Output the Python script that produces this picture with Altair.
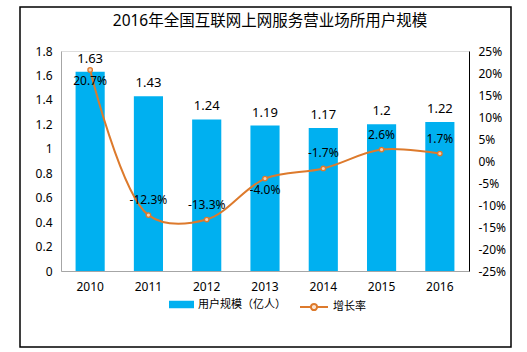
import altair as alt
import pandas as pd

years = ["2010", "2011", "2012", "2013", "2014", "2015", "2016"]
users = [1.63, 1.43, 1.24, 1.19, 1.17, 1.2, 1.22]
growth = [20.7, -12.3, -13.3, -4.0, -1.7, 2.6, 1.7]
below_years = ["2010", "2013"]
left_ticks = [0, 0.2, 0.4, 0.6, 0.8, 1.0, 1.2, 1.4, 1.6, 1.8]
right_ticks = [-25, -20, -15, -10, -5, 0, 5, 10, 15, 20, 25]
bar_name = "用户规模（亿人）"
line_name = "增长率"
title_text = "2016年全国互联网上网服务营业场所用户规模"

FONT = "Noto Sans, Noto Sans CJK SC, sans-serif"
BLUE = "#00B0F0"
ORANGE = "#DD7A2C"

df = pd.DataFrame({
    "year": years,
    "users": users,
    "growth": growth,
    "bar": [bar_name] * len(years),
    "line": [line_name] * len(years),
})
df["below"] = df["year"].isin(below_years)

xenc = alt.X("year:N", sort=years, title=None,
             scale=alt.Scale(paddingInner=0.5, paddingOuter=0.25),
             axis=alt.Axis(labelAngle=0, ticks=False, domainColor="#A6A6A6",
                           labelFontSize=12, labelPadding=10, labelColor="#000000",
                           labelFont=FONT))

yu = alt.Y("users:Q", title=None,
           scale=alt.Scale(domain=[0, 1.8], nice=False),
           axis=alt.Axis(values=left_ticks, tickCount=10, format="~g", ticks=False, grid=False,
                         labelOverlap=False, labelFlush=False,
                         domainColor="#A6A6A6", labelFontSize=12, labelPadding=9,
                         labelColor="#000000", labelFont=FONT))

yg = alt.Y("growth:Q", title=None,
           scale=alt.Scale(domain=[-25, 25], nice=False),
           axis=alt.Axis(orient="right", values=right_ticks, tickCount=11,
                         labelExpr="datum.value + '%'",
                         labelOverlap=False, labelFlush=False,
                         ticks=False, grid=False, domainColor="#000000", labelFontSize=12,
                         labelPadding=9, labelColor="#000000", labelFont=FONT))

base = alt.Chart(df)

bars = base.mark_bar().encode(
    x=xenc,
    y=yu,
    color=alt.Color("bar:N", scale=alt.Scale(domain=[bar_name], range=[BLUE]),
                    legend=alt.Legend(title=None, orient="none", legendX=108, legendY=241,
                                      symbolType="M-1,-0.3H1V0.3H-1Z", symbolSize=625,
                                      symbolStrokeWidth=0, labelFontSize=11, labelFont=FONT,
                                      labelColor="#000000", padding=0)),
)

bar_labels = base.mark_text(baseline="bottom", dy=-6, fontSize=13, font=FONT, color="#000000").encode(
    x=xenc,
    y=yu,
    text=alt.Text("users:Q", format="~g"),
)

left = alt.layer(bars, bar_labels)

line = base.mark_line(interpolate="catmull-rom", strokeWidth=2).encode(
    x=xenc,
    y=yg,
    stroke=alt.Stroke("line:N", scale=alt.Scale(domain=[line_name], range=[ORANGE]),
                      legend=alt.Legend(title=None, orient="none", legendX=238, legendY=241,
                                        symbolType="M-1,0H-0.22M0.22,0H1M-0.22,0A0.22,0.22,0,1,1,0.22,0A0.22,0.22,0,1,1,-0.22,0",
                                        symbolSize=784, symbolStrokeWidth=2,
                                        symbolFillColor="#FBE3D0",
                                        labelFontSize=11, labelFont=FONT,
                                        labelColor="#000000", padding=0)),
)

pts = base.mark_point(filled=False, size=20, strokeWidth=1.3, color=ORANGE, fill="#F6CFB0", fillOpacity=1).encode(
    x=xenc,
    y=yg,
)

lab_expr = "replace(format(datum.growth, '.1f'), '\u2212', '-') + '%'"

glab_up = base.transform_filter("!datum.below").transform_calculate(
    lab=lab_expr
).mark_text(baseline="middle", dy=-15, fontSize=12, font=FONT, color="#000000").encode(
    x=xenc,
    y=yg,
    text="lab:N",
)
glab_down = base.transform_filter("datum.below").transform_calculate(
    lab=lab_expr
).mark_text(baseline="middle", dy=11, fontSize=12, font=FONT, color="#000000").encode(
    x=xenc,
    y=yg,
    text="lab:N",
)

right = alt.layer(line, pts, glab_up, glab_down)

single = alt.Chart(pd.DataFrame({"t": [title_text]}))

frame = single.mark_rect(fill=None, stroke="#000000", strokeWidth=1.5).encode(
    x=alt.value(-41), x2=alt.value(450), y=alt.value(-44), y2=alt.value(296)
)

title = single.mark_text(fontSize=15.5, font=FONT, fontWeight="normal", color="#000000",
                         align="center", baseline="middle").encode(
    x=alt.value(209), y=alt.value(-30), text="t:N"
)

chart = alt.layer(left, right, frame, title).resolve_scale(
    y="independent", color="independent", stroke="independent"
).properties(
    width=408, height=220,
    padding={"left": 61, "top": 51, "right": 58, "bottom": 81},
    autosize=alt.AutoSizeParams(type="none"),
).configure_view(stroke=None).configure(background="#ffffff")

chart.save("out.html", embed_options={"renderer": "svg", "actions": False})
